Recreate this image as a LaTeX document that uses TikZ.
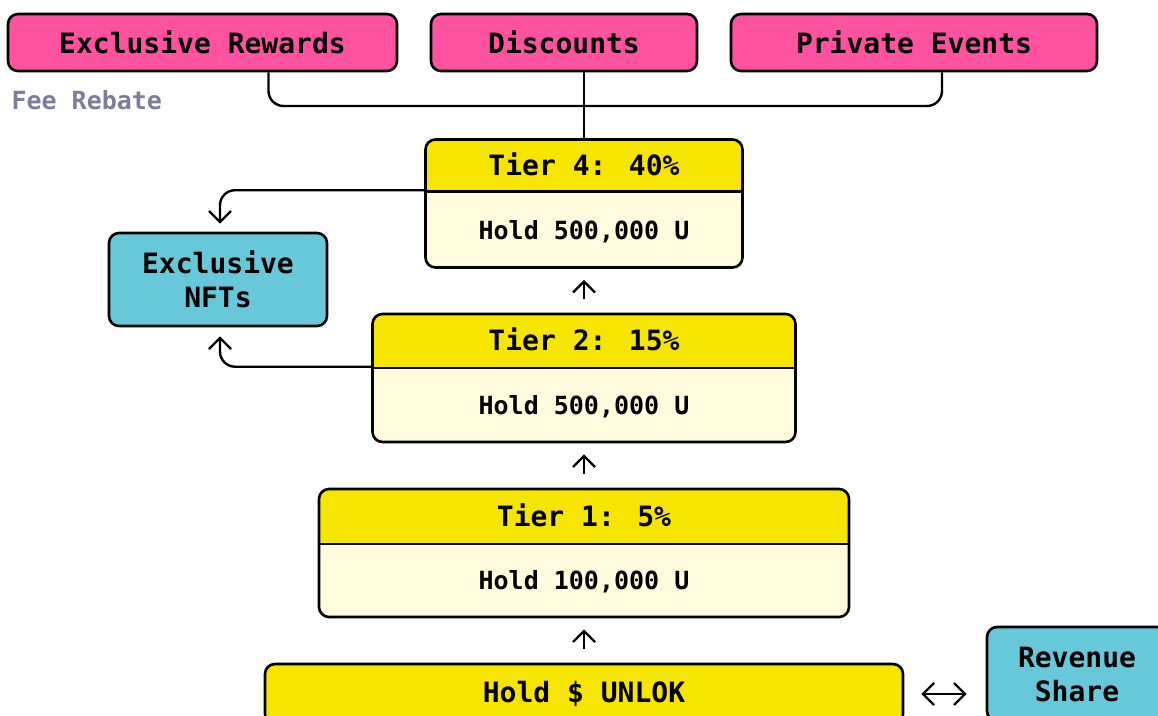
\documentclass[tikz,border=0pt]{standalone}
\usepackage{fontspec}
\setmainfont{DejaVu Sans Mono}
\usetikzlibrary{arrows.meta}
\definecolor{perkpink}{RGB}{255,82,160}
\definecolor{tieryellow}{RGB}{245,229,0}
\definecolor{tierlight}{RGB}{255,251,220}
\definecolor{nftcyan}{RGB}{103,200,218}
\definecolor{rebategray}{RGB}{122,126,152}
\tikzset{
  box/.style={draw, line width=2.6pt, rounded corners=10pt, inner sep=0pt},
  big/.style={font=\fontsize{28}{34}\selectfont\bfseries},
  small/.style={font=\fontsize{25}{30}\selectfont\bfseries},
  perk/.style={box, big, fill=perkpink, minimum height=57pt},
  extra/.style={box, big, fill=nftcyan, align=center},
  tier/.style={box, fill=tierlight, minimum height=128pt,
    path picture={
      \fill[tieryellow, sharp corners] (path picture bounding box.north west)
        rectangle ([yshift=-#1]path picture bounding box.north east);
      \draw[line width=2.6pt, sharp corners] ([yshift=-#1]path picture bounding box.north west)
        -- ([yshift=-#1]path picture bounding box.north east);
    }},
  barb/.tip={Straight Barb[length=11pt,width=22pt,line width=2.4pt]},
  link/.style={line width=2.4pt, rounded corners=15pt},
  arr/.style={line width=2.4pt, -barb},
  twoarr/.style={line width=2.4pt, barb-barb},
}
\begin{document}
\begin{tikzpicture}[x=1pt,y=1pt]
  \useasboundingbox (0,0) rectangle (1158,-715);
  \clip (0,0) rectangle (1158,-715);

  % perks on top
  \node[perk, minimum width=389pt] (rewards) at (202.5,-42.5) {Exclusive Rewards};
  \node[perk, minimum width=266pt] (discounts) at (564,-42.5) {Discounts};
  \node[perk, minimum width=366pt] (events) at (914,-42.5) {Private Events};
  \node[small, text=rebategray, anchor=west] (rebate) at (8,-100) {Fee Rebate};

  % tiers
  \node[tier=52pt, minimum width=317pt] (t4) at (584,-203.5) {};
  \node[big] (t4head) at ([yshift=-26]t4.north) {Tier 4: 40\%};
  \node[small] (t4body) at ([yshift=37.5]t4.south) {Hold 500,000 U};

  \node[tier=54pt, minimum width=423pt] (t2) at (584,-378) {};
  \node[big] (t2head) at ([yshift=-27]t2.north) {Tier 2: 15\%};
  \node[small] (t2body) at ([yshift=37]t2.south) {Hold 500,000 U};

  \node[tier=55pt, minimum width=530pt] (t1) at (584,-553) {};
  \node[big] (t1head) at ([yshift=-27.5]t1.north) {Tier 1: 5\%};
  \node[small] (t1body) at ([yshift=37]t1.south) {Hold 100,000 U};

  \node[box, big, fill=tieryellow, minimum width=638pt, minimum height=60pt] (hold) at (584,-694) {Hold \$ UNLOK};

  % side boxes
  \node[extra, minimum width=218pt, minimum height=93pt] (nfts) at (218,-279.5) {Exclusive\\NFTs};
  \node[extra, minimum width=180pt, minimum height=94pt] (revenue) at (1077,-674) {Revenue\\Share};

  % connectors
  \coordinate (bus) at (584,-106);
  \draw[link] ([xshift=66]rewards.south) |- (bus) -| ([xshift=28]events.south);
  \draw[line width=2.4pt] (t4.north) -- (t4.north |- discounts.south);
  \draw[arr, shorten <=14pt, shorten >=11pt] (t2.north) -- (t4.south);
  \draw[arr, shorten <=14pt, shorten >=11pt] (t1.north) -- (t2.south);
  \draw[arr, shorten <=14pt, shorten >=11pt] (hold.north) -- (t1.south);
  \draw[link, arr, shorten >=8pt] ([yshift=-52]t4.north west) -| ([xshift=2]nfts.north);
  \draw[link, arr, shorten >=9pt] ([yshift=-54]t2.north west) -| ([xshift=2]nfts.south);
  \draw[twoarr, shorten <=17pt, shorten >=19pt] (hold.east) -- (hold.east -| revenue.west);
\end{tikzpicture}
\end{document}
